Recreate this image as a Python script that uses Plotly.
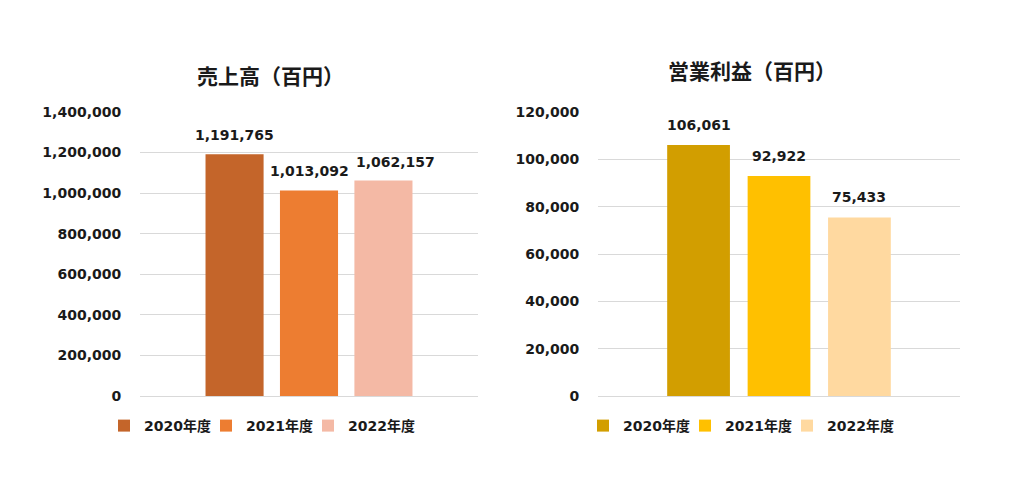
import plotly.graph_objects as go

years = ["2020年度", "2021年度", "2022年度"]
sales = [1191765, 1013092, 1062157]
profit = [106061, 92922, 75433]
sales_colors = ["#C4652A", "#ED7D31", "#F4B9A5"]
profit_colors = ["#D29E00", "#FFC000", "#FFD9A0"]
sales_ticks = [0, 200000, 400000, 600000, 800000, 1000000, 1200000, 1400000]
profit_ticks = [0, 20000, 40000, 60000, 80000, 100000, 120000]

# label horizontal nudges (style only)
sales_label_dx = [0, 0, 12]
profit_label_dx = [0, 0, 0]

FONT = "DejaVu Sans, Noto Sans CJK JP, sans-serif"
TXT = "#1a1a1a"

fig = go.Figure()
for i, y in enumerate(years):
    fig.add_trace(go.Bar(x=[y], y=[sales[i]], name=y, marker=dict(color=sales_colors[i], line=dict(width=0)),
                         xaxis="x", yaxis="y", legend="legend", hoverinfo="skip"))
# blank spacer legend entry so the last legend label is not clipped
fig.add_trace(go.Bar(x=[years[0]], y=[None], name=" ", opacity=0,
                     marker=dict(color="rgba(0,0,0,0)", line=dict(width=0, color="rgba(0,0,0,0)")),
                     xaxis="x", yaxis="y", legend="legend", hoverinfo="skip"))
for i, y in enumerate(years):
    fig.add_trace(go.Bar(x=[y], y=[profit[i]], name=y, marker=dict(color=profit_colors[i], line=dict(width=0)),
                         xaxis="x2", yaxis="y2", legend="legend2", hoverinfo="skip"))
fig.add_trace(go.Bar(x=[years[0]], y=[None], name=" ", opacity=0,
                     marker=dict(color="rgba(0,0,0,0)", line=dict(width=0, color="rgba(0,0,0,0)")),
                     xaxis="x2", yaxis="y2", legend="legend2", hoverinfo="skip"))

ann = []
for i, y in enumerate(years):
    ann.append(dict(x=y, y=sales[i], xref="x", yref="y", text=f"{sales[i]:,}", showarrow=False,
                    yanchor="middle", yshift=19, xshift=sales_label_dx[i],
                    font=dict(family=FONT, size=14, color=TXT, weight="bold")))
    ann.append(dict(x=y, y=profit[i], xref="x2", yref="y2", text=f"{profit[i]:,}", showarrow=False,
                    yanchor="middle", yshift=20, xshift=profit_label_dx[i],
                    font=dict(family=FONT, size=14, color=TXT, weight="bold")))
ann.append(dict(x=270/1024, y=1-75/494, xref="paper", yref="paper", text="売上高（百円）", showarrow=False,
                xanchor="center", yanchor="middle", font=dict(family="Noto Sans CJK JP", size=21, color=TXT, weight="bold")))
ann.append(dict(x=752/1024, y=1-70/494, xref="paper", yref="paper", text="営業利益（百円）", showarrow=False,
                xanchor="center", yanchor="middle", font=dict(family="Noto Sans CJK JP", size=21, color=TXT, weight="bold")))

ydom = [(494-396)/494, (494-112)/494]
tickfont = dict(family=FONT, size=14, color=TXT, weight="bold")
common_y = dict(showgrid=True, gridcolor="#D9D9D9", gridwidth=1, zeroline=True, zerolinecolor="#D9D9D9",
                zerolinewidth=1, ticks="outside", ticklen=15, tickcolor="rgba(0,0,0,0)", tickfont=tickfont,
                showline=False, tickformat=",d", automargin=False, fixedrange=True)
common_x = dict(showticklabels=False, showgrid=False, zeroline=False, showline=False, type="category",
                categoryorder="array", categoryarray=years, fixedrange=True, automargin=False)

legfont = dict(family=FONT, size=14, color=TXT, weight="bold")
fig.update_layout(
    width=1024, height=494,
    margin=dict(l=0, r=0, t=0, b=0),
    paper_bgcolor="white", plot_bgcolor="white",
    barmode="overlay", bargap=0.22,
    showlegend=True,
    xaxis=dict(domain=[140/1024, 478/1024], range=[-1.27, 3.27], anchor="y", **common_x),
    yaxis=dict(domain=ydom, range=[0, 1400000], tickvals=sales_ticks, anchor="x", **common_y),
    xaxis2=dict(domain=[598/1024, 960/1024], range=[-1.25, 3.25], anchor="y2", **common_x),
    yaxis2=dict(domain=ydom, range=[0, 120000], tickvals=profit_ticks, anchor="x2", **common_y),
    legend=dict(orientation="h", x=104/1024, y=1-426/494, xanchor="left", yanchor="middle",
                font=legfont, bgcolor="rgba(0,0,0,0)", itemwidth=30,
                entrywidth=57, entrywidthmode="pixels",
                traceorder="normal", itemclick=False, itemdoubleclick=False),
    legend2=dict(orientation="h", x=583/1024, y=1-426/494, xanchor="left", yanchor="middle",
                 font=legfont, bgcolor="rgba(0,0,0,0)", itemwidth=30,
                 entrywidth=57, entrywidthmode="pixels",
                 traceorder="normal", itemclick=False, itemdoubleclick=False),
    annotations=ann,
)

fig.write_html("out.html")
